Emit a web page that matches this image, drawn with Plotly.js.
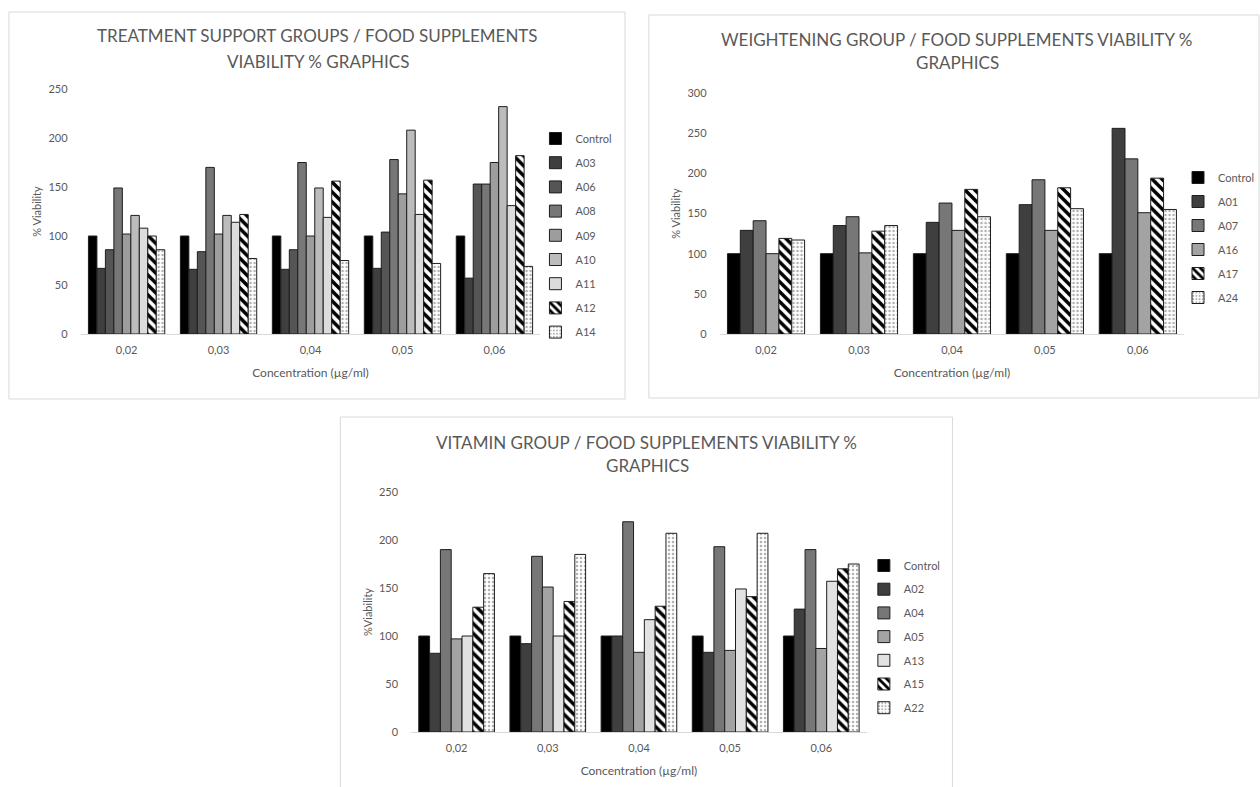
<!DOCTYPE html>
<html>
<head>
<meta charset="utf-8">
<script src="https://cdn.plot.ly/plotly-3.0.1.min.js"></script>
<style>html,body{margin:0;padding:0;background:#fff;}#chart{width:1260px;height:787px;}</style>
</head>
<body>
<div id="chart"></div>
<script>
// ---------- data ----------
const concentrations = ['0,02', '0,03', '0,04', '0,05', '0,06'];

// Chart 1: treatment support groups
const t1Names = ['Control', 'A03', 'A06', 'A08', 'A09', 'A10', 'A11', 'A12', 'A14'];
const t1Control = [100, 100, 100, 100, 100];
const t1A03 = [67, 66, 66, 67, 57];
const t1A06 = [86, 84, 86, 104, 153];
const t1A08 = [149, 170, 175, 178, 153];
const t1A09 = [102, 102, 100, 143, 175];
const t1A10 = [121, 121, 149, 208, 232];
const t1A11 = [108, 114, 119, 122, 131];
const t1A12 = [100, 122, 156, 157, 182];
const t1A14 = [86, 77, 75, 72, 69];

// Chart 2: weightening group
const w2Names = ['Control', 'A01', 'A07', 'A16', 'A17', 'A24'];
const w2Control = [100, 100, 100, 100, 100];
const w2A01 = [129, 135, 139, 161, 256];
const w2A07 = [141, 146, 163, 192, 218];
const w2A16 = [100, 101, 129, 129, 151];
const w2A17 = [119, 128, 180, 182, 194];
const w2A24 = [117, 135, 146, 156, 155];

// Chart 3: vitamin group
const v3Names = ['Control', 'A02', 'A04', 'A05', 'A13', 'A15', 'A22'];
const v3Control = [100, 100, 100, 100, 100];
const v3A02 = [82, 92, 100, 83, 128];
const v3A04 = [190, 183, 219, 193, 190];
const v3A05 = [97, 151, 83, 85, 87];
const v3A13 = [100, 100, 117, 149, 157];
const v3A15 = [130, 136, 131, 141, 170];
const v3A22 = [165, 185, 207, 207, 175];

// ---------- helpers ----------
const W = 1260, H = 787;
const px = x => x / W;
const py = y => 1 - y / H;
const FONT = 'Lato, "Open Sans", sans-serif';
const TXT = '#595959';

function style(kind) {
  const line = {color: '#1e1e1e', width: 1};
  if (kind === 'stripe') return {color: '#ffffff', line: line,
    pattern: {shape: '\\', fgcolor: '#000000', bgcolor: '#ffffff', size: 7, solidity: 0.5}};
  if (kind === 'dots') return {color: '#ffffff', line: line,
    pattern: {shape: '.', fgcolor: '#b0b0b0', bgcolor: '#ffffff', size: 4, solidity: 0.3}};
  return {color: kind, line: line};
}

const traces = [];
function addSeries(names, values, kinds, xa, ya, legend) {
  names.forEach((n, i) => {
    traces.push({
      type: 'bar', name: n, x: concentrations, y: values[i],
      xaxis: xa, yaxis: ya, legend: legend, legendgroup: legend + n,
      marker: style(kinds[i]), hoverinfo: 'x+y+name'
    });
  });
}

addSeries(t1Names, [t1Control, t1A03, t1A06, t1A08, t1A09, t1A10, t1A11, t1A12, t1A14],
  ['#000000', '#3f3f3f', '#555555', '#777777', '#9d9d9d', '#bcbcbc', '#dcdcdc', 'stripe', 'dots'],
  'x', 'y', 'legend');
addSeries(w2Names, [w2Control, w2A01, w2A07, w2A16, w2A17, w2A24],
  ['#000000', '#3f3f3f', '#777777', '#a3a3a3', 'stripe', 'dots'],
  'x2', 'y2', 'legend2');
addSeries(v3Names, [v3Control, v3A02, v3A04, v3A05, v3A13, v3A15, v3A22],
  ['#000000', '#3f3f3f', '#777777', '#a3a3a3', '#e2e2e2', 'stripe', 'dots'],
  'x3', 'y3', 'legend3');

function xAxis(x0, x1, anchor) {
  return {
    domain: [px(x0), px(x1)], anchor: anchor, type: 'category',
    showgrid: false, zeroline: false, showline: true, linecolor: '#d9d9d9', linewidth: 1,
    ticks: '', ticklabelstandoff: 6, tickfont: {family: FONT, size: 11, color: TXT},
    title: {text: 'Concentration (µg/ml)', standoff: 13, font: {family: FONT, size: 12, color: TXT}},
    fixedrange: true
  };
}
function yAxis(y0, y1, anchor, maxv, dt, titleText) {
  return {
    domain: [py(y1), py(y0)], anchor: anchor, range: [0, maxv], dtick: dt,
    showgrid: false, zeroline: false, showline: false,
    ticks: '', ticklabelstandoff: 12, tickfont: {family: FONT, size: 11, color: TXT},
    title: {text: titleText, standoff: 4, font: {family: FONT, size: 11, color: TXT}},
    fixedrange: true
  };
}
function legendAt(xText, yTop, gap) {
  return {
    x: px(xText - 40), y: py(yTop), xanchor: 'left', yanchor: 'top',
    orientation: 'v', bgcolor: 'rgba(0,0,0,0)', borderwidth: 0,
    font: {family: FONT, size: 11, color: TXT}, tracegroupgap: gap,
    itemclick: false, itemdoubleclick: false
  };
}
function titleAnn(text, cx, cy) {
  return {text: text, x: px(cx), y: py(cy), xref: 'paper', yref: 'paper',
    xanchor: 'center', yanchor: 'middle', showarrow: false,
    font: {family: FONT, size: 17, color: TXT}};
}
function panel(x0, y0, x1, y1) {
  return {type: 'rect', xref: 'paper', yref: 'paper',
    x0: px(x0), x1: px(x1), y0: py(y1), y1: py(y0),
    line: {color: '#d9d9d9', width: 1}, fillcolor: 'rgba(0,0,0,0)', layer: 'below'};
}

const layout = {
  width: W, height: H, margin: {l: 0, r: 0, t: 0, b: 0},
  paper_bgcolor: '#ffffff', plot_bgcolor: 'rgba(0,0,0,0)',
  barmode: 'group', bargap: 0.17, bargroupgap: 0,
  font: {family: FONT, color: TXT},
  xaxis: xAxis(81, 543, 'y'),
  yaxis: yAxis(89, 334, 'x', 250, 50, '% Viability'),
  xaxis2: xAxis(723, 1190, 'y2'),
  yaxis2: yAxis(93, 334, 'x2', 300, 50, '% Viability'),
  xaxis3: xAxis(413, 871, 'y3'),
  yaxis3: yAxis(492, 732, 'x3', 250, 50, '%Viability'),
  legend: legendAt(578, 124, 5.2),
  legend2: legendAt(1224, 163, 5),
  legend3: legendAt(908, 551, 4.7),
  showlegend: true,
  annotations: [
    titleAnn('TREATMENT SUPPORT GROUPS / FOOD SUPPLEMENTS', 319, 36),
    titleAnn('VIABILITY % GRAPHICS', 320, 62),
    titleAnn('WEIGHTENING GROUP / FOOD SUPPLEMENTS VIABILITY %', 961, 40),
    titleAnn('GRAPHICS', 962, 63),
    titleAnn('VITAMIN GROUP / FOOD SUPPLEMENTS VIABILITY %', 650, 442),
    titleAnn('GRAPHICS', 651, 465)
  ],
  shapes: [
    panel(9, 12, 628, 399),
    panel(652, 15, 1265, 398),
    panel(342, 417, 957, 795)
  ]
};

Plotly.newPlot('chart', traces, layout, {displayModeBar: false, staticPlot: false, responsive: false});
</script>
</body>
</html>
